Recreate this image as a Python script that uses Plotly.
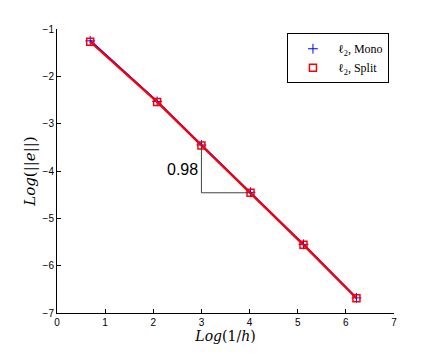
import plotly.graph_objects as go

log_inv_h = [0.69, 2.08, 3.0, 4.02, 5.12, 6.22]
mono_err = [-1.25, -2.53, -3.45, -4.45, -5.55, -6.68]
split_err = [-1.27, -2.54, -3.46, -4.46, -5.56, -6.69]
slope_label = "0.98"
x_ticks = [0, 1, 2, 3, 4, 5, 6, 7]
y_ticks = [-7, -6, -5, -4, -3, -2, -1]
series_names = ["ℓ<sub>2</sub>, Mono", "ℓ<sub>2</sub>, Split"]

fig = go.Figure()
mono_marker = dict(symbol="cross-thin-open", size=7, color="#0000ff", line=dict(width=1, color="#0000ff"))
split_marker = dict(symbol="square-open", size=7, color="#ff0000", line=dict(width=1.5, color="#ff0000"))
fig.add_trace(go.Scatter(
    x=log_inv_h, y=mono_err, mode="lines+markers", showlegend=False,
    line=dict(color="#0000ff", width=2), marker=mono_marker,
))
fig.add_trace(go.Scatter(
    x=log_inv_h, y=split_err, mode="lines+markers", showlegend=False,
    line=dict(color="#ff0000", width=2.2), marker=split_marker,
))
# legend-only marker entries
fig.add_trace(go.Scatter(x=[None], y=[None], mode="markers", name=series_names[0], marker=mono_marker))
fig.add_trace(go.Scatter(x=[None], y=[None], mode="markers", name=series_names[1], marker=split_marker))

# slope triangle from 3rd and 4th points
x3, x4 = log_inv_h[2], log_inv_h[3]
y3, y4 = split_err[2], split_err[3]
fig.add_trace(go.Scatter(
    x=[x3, x3, x4], y=[y3, y4, y4], mode="lines",
    line=dict(color="#444444", width=1), showlegend=False, hoverinfo="skip",
))
fig.add_annotation(x=x3, y=(y3 + y4) / 2, text=slope_label, showarrow=False,
                   xanchor="right", yanchor="middle", xshift=-1,
                   font=dict(family="Liberation Sans, Arial", size=16, color="black"))

axis_common = dict(
    showline=True, linecolor="black", linewidth=1, ticks="inside", ticklen=4,
    tickcolor="black", showgrid=False, zeroline=False, mirror=False, automargin=False,
    tickfont=dict(family="Liberation Sans, Arial", size=10, color="black"),
)
fig.update_xaxes(range=[0, 7], tickvals=x_ticks, **axis_common,
                 title=dict(text="<i>Log</i>(1/<i>h</i>)", standoff=1,
                            font=dict(family="DejaVu Serif, Liberation Serif", size=14, color="black")))
fig.update_yaxes(range=[-7, -1], tickvals=y_ticks, **axis_common,
                 title=dict(text="<i>Log</i>(||<i>e</i>||)", standoff=3,
                            font=dict(family="DejaVu Serif, Liberation Serif", size=15, color="black")))
fig.update_layout(
    width=436, height=354, plot_bgcolor="white", paper_bgcolor="white",
    margin=dict(l=49, r=50, t=21, b=49),
    legend=dict(x=0.985, y=0.985, xanchor="right", yanchor="top",
                bgcolor="white", bordercolor="black", borderwidth=1,
                font=dict(family="Liberation Serif, DejaVu Serif", size=12, color="black"),
                tracegroupgap=0, itemwidth=40),
)
fig.write_html("out.html")
